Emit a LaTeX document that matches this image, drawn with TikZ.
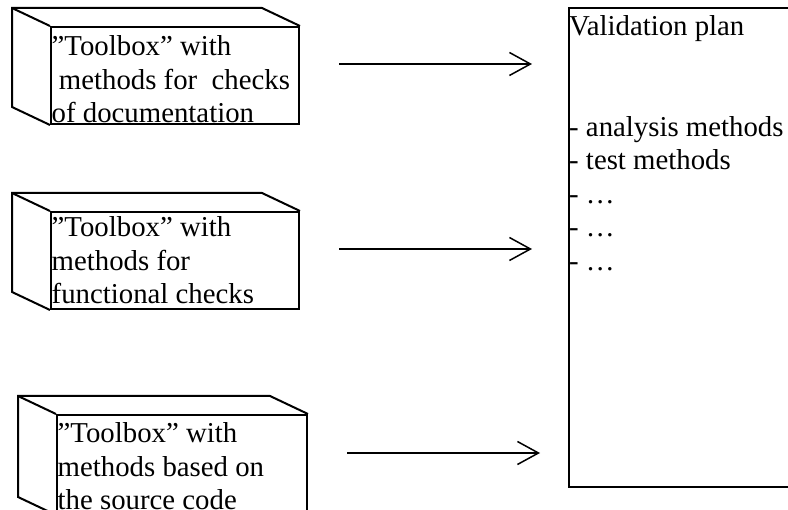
\documentclass[tikz,border=0pt]{standalone}
\usepackage{fontspec}
\setmainfont{Liberation Serif}
\usetikzlibrary{arrows.meta,positioning,calc}

\tikzset{
	front/.style={draw, line width=2pt, minimum width=248pt, minimum height=97pt, inner sep=0pt, anchor=north west},
	back/.style={line width=2pt},
	txt/.style={anchor=north west, inner sep=0pt, align=left, font=\fontsize{28.8}{33.5}\selectfont},
	arr/.style={line width=1.5pt, -{Straight Barb[length=21pt,width=23pt,line width=1.5pt]}}
}

\begin{document}
\begin{tikzpicture}[x=1pt,y=-1pt]
		\clip (0,0) rectangle (788,510);
		% toolboxes (front faces)
		\node[front] (tb1) at (50,26) {};
		\node[front] (tb2) at (50,211) {};
		\node[front, minimum height=99pt, minimum width=250pt] (tb3) at (56,414) {};
		\node[txt] (t1) at ($(tb1.north west)+(1.5,9.5)$) {”Toolbox” with\\\ methods for \ checks\\of documentation};
		\node[txt] (t2) at ($(tb2.north west)+(1.5,5.5)$) {”Toolbox” with\\methods for\\functional checks};
		\node[txt] (t3) at ($(tb3.north west)+(1.5,8.5)$) {”Toolbox” with\\methods based on\\the source code};
		% validation plan
		\node[draw, line width=2pt, minimum width=260pt, minimum height=479pt, inner sep=0pt, anchor=north west] (plan) at (568,7) {};
		\node[txt] (pt) at ($(plan.north west)+(1,8.5)$) {Validation plan\\\mbox{}\\\mbox{}\\- analysis methods\\- test methods\\- …\\- …\\- …};
		\foreach \b in {tb1,tb2,tb3} {
			\draw[back] (\b.south west) -- ++(-38,-18) |- ($(\b.north east)+(-38,-18)$) -- (\b.north east);
			\draw[back] (\b.north west) -- ++(-38,-18);
			\draw[arr] ([shift={(39,-11.5)}]\b.east) -- ++(193,0);
		}
	\end{tikzpicture}
\end{document}
